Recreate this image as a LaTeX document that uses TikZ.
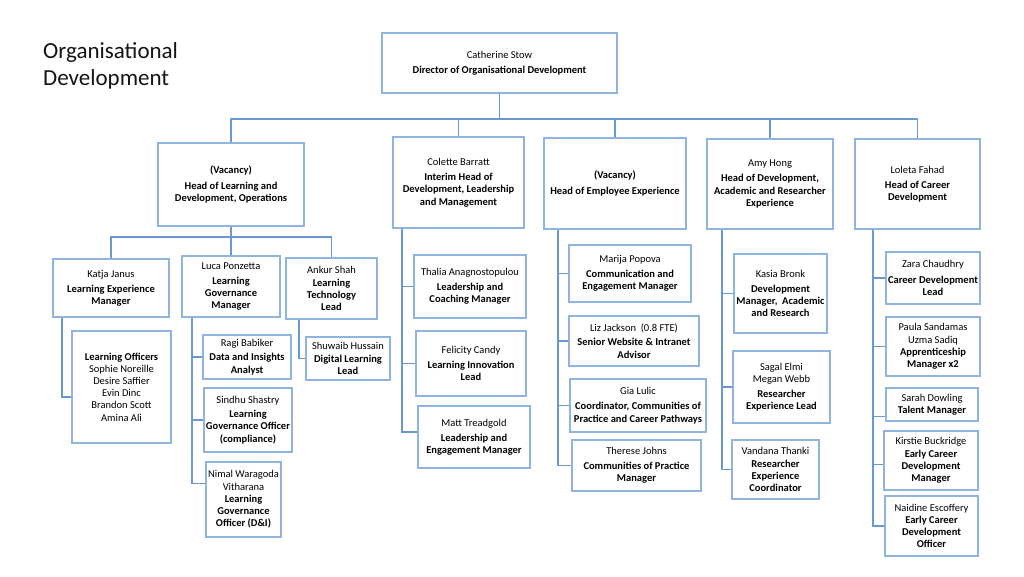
\documentclass[tikz,border=0pt]{standalone}
\usepackage{fontspec}
\setmainfont{Carlito}
\definecolor{boxc}{RGB}{143,180,222}
\definecolor{linec}{RGB}{104,152,206}
\begin{document}
\begin{tikzpicture}[x=1pt,y=-1pt,
  bx/.style={draw=boxc,line width=1.1pt,fill=white,align=center,inner sep=0pt,
     font=\fontsize{10.5}{12.2}\selectfont,text=black},
  cn/.style={draw=linec,line width=1.1pt}]
\useasboundingbox (0,0) rectangle (1024,576);
\newcommand{\bx}[6]{\node[bx,minimum width=#4,minimum height=#5] (#1) at (#2,#3) {#6};}
\node[anchor=west,align=left,font=\fontsize{23}{27}\selectfont,text={rgb,255:red,20;green,20;blue,20},inner sep=0pt] (title) at (43,66) {Organisational\\Development};
% director
\bx{dir}{499.5}{63}{235}{60}{Catherine Stow\\[3pt]\textbf{Director of Organisational Development}}
% heads
\bx{hA}{231}{184.5}{146}{83}{\textbf{(Vacancy)}\\[3pt]\textbf{Head of Learning and}\\\textbf{Development, Operations}}
\bx{hB}{458.5}{182.5}{131}{91}{Colette Barratt\\[3pt]\textbf{Interim Head of}\\\textbf{Development, Leadership}\\\textbf{and Management}}
\bx{hC}{615}{183.5}{142}{91}{\textbf{(Vacancy)}\\[3pt]\textbf{Head of Employee Experience}}
\bx{hD}{770}{184}{126}{90}{Amy Hong\\[3pt]\textbf{Head of Development,}\\\textbf{Academic and Researcher}\\\textbf{Experience}}
\bx{hE}{917.5}{184}{125}{90}{Loleta Fahad\\[3pt]\textbf{Head of Career}\\\textbf{Development}}
% bus
\coordinate (busL) at (231,119);
\draw[cn] (dir.south) -- (dir.south |- busL);
\draw[cn] (hA.north) -- (hA.north |- busL) -- (hE.north |- busL) -- (hE.north);
\draw[cn] (hB.north) -- (hB.north |- busL);
\draw[cn] (hC.north) -- (hC.north |- busL);
\draw[cn] (hD.north) -- (hD.north |- busL);
% under head A
\bx{katja}{111}{288}{116}{58}{Katja Janus\\[3pt]\textbf{Learning Experience}\\\textbf{Manager}}
\bx{luca}{231}{286.5}{98}{61}{Luca Ponzetta\\[3pt]\textbf{Learning}\\\textbf{Governance}\\\textbf{Manager}}
\bx{ankur}{331.5}{288.5}{91}{61}{Ankur Shah\\\textbf{Learning}\\\textbf{Technology}\\\textbf{Lead}}
\coordinate (busA) at (0,237);
\draw[cn] (hA.south) -- (hA.south |- busA);
\draw[cn] (katja.north) -- (katja.north |- busA) -- (ankur.north |- busA) -- (ankur.north);
\draw[cn] (luca.north) -- (luca.north |- busA);
\bx{lo}{121.5}{387}{99}{112}{\textbf{Learning Officers}\\Sophie Noreille\\Desire Saffier\\Evin Dinc\\Brandon Scott\\Amina Ali}
\bx{ragi}{247}{357}{88}{44}{Ragi Babiker\\[2pt]\textbf{Data and Insights}\\\textbf{Analyst}}
\bx{sindhu}{248}{420}{88}{64}{Sindhu Shastry\\[2pt]\textbf{Learning}\\\textbf{Governance Officer}\\\textbf{(compliance)}}
\bx{nimal}{243.5}{499.5}{75}{75}{Nimal Waragoda\\Vitharana\\\textbf{Learning}\\\textbf{Governance}\\\textbf{Officer (D\&I)}}
\bx{shuwaib}{348}{358.5}{84}{43}{Shuwaib Hussain\\\textbf{Digital Learning}\\\textbf{Lead}}
\coordinate (tK) at (62,0);
\coordinate (tL) at (192,0);
\coordinate (tS) at (299,0);
\draw[cn] (katja.south -| tK) |- ([yshift=-10pt]lo.west);
\draw[cn] (luca.south -| tL) |- ([yshift=16pt]nimal.west);
\draw[cn] (ragi.west -| tL) -- (ragi.west);
\draw[cn] (sindhu.west -| tL) -- (sindhu.west);
\draw[cn] (ankur.south -| tS) |- (shuwaib.west);
% under head B
\bx{thalia}{470}{286.5}{112}{63}{Thalia Anagnostopulou\\[3pt]\textbf{Leadership and}\\\textbf{Coaching Manager}}
\bx{felicity}{471}{363.5}{110}{65}{Felicity Candy\\[3pt]\textbf{Learning Innovation}\\\textbf{Lead}}
\bx{matt}{474}{437}{112}{62}{Matt Treadgold\\[3pt]\textbf{Leadership and}\\\textbf{Engagement Manager}}
\coordinate (tB) at (402,0);
\draw[cn] (hB.south -| tB) |- ([yshift=5pt]matt.west);
\draw[cn] (thalia.west -| tB) -- (thalia.west);
\draw[cn] (felicity.west -| tB) -- (felicity.west);
% under head C
\bx{marija}{630}{273.5}{122}{57}{Marija Popova\\[3pt]\textbf{Communication and}\\\textbf{Engagement Manager}}
\bx{liz}{634}{341}{130}{50}{Liz Jackson\ \ (0.8 FTE)\\[2pt]\textbf{Senior Website \& Intranet}\\\textbf{Advisor}}
\bx{gia}{638}{405.5}{136}{53}{Gia Lulic\\[3pt]\textbf{Coordinator, Communities of}\\\textbf{Practice and Career Pathways}}
\bx{therese}{636.5}{465.5}{129}{51}{Therese Johns\\[3pt]\textbf{Communities of Practice}\\\textbf{Manager}}
\coordinate (tC) at (558,0);
\draw[cn] (hC.south -| tC) |- (therese.west);
\draw[cn] (marija.west -| tC) -- (marija.west);
\draw[cn] (liz.west -| tC) -- (liz.west);
\draw[cn] (gia.west -| tC) -- (gia.west);
% under head D
\bx{kasia}{780.5}{293.5}{93}{79}{Kasia Bronk\\[3pt]\textbf{Development}\\\textbf{Manager,\ \ Academic}\\\textbf{and Research}}
\bx{sagal}{781.5}{387}{97}{72}{Sagal Elmi\\Megan Webb\\[3pt]\textbf{Researcher}\\\textbf{Experience Lead}}
\bx{vandana}{775.5}{469.5}{87}{59}{Vandana Thanki\\\textbf{Researcher}\\\textbf{Experience}\\\textbf{Coordinator}}
\coordinate (tD) at (722,0);
\draw[cn] (hD.south -| tD) |- (vandana.west);
\draw[cn] (kasia.west -| tD) -- (kasia.west);
\draw[cn] (sagal.west -| tD) -- (sagal.west);
% under head E
\bx{zara}{933}{278}{94}{52}{Zara Chaudhry\\[3pt]\textbf{Career Development}\\\textbf{Lead}}
\bx{paula}{933}{346.5}{94}{59}{Paula Sandamas\\Uzma Sadiq\\\textbf{Apprenticeship}\\\textbf{Manager x2}}
\bx{sarah}{932}{404.5}{92}{33}{Sarah Dowling\\\textbf{Talent Manager}}
\bx{kirstie}{931}{460.5}{94}{59}{Kirstie Buckridge\\\textbf{Early Career}\\\textbf{Development}\\\textbf{Manager}}
\bx{naidine}{931.5}{526}{93}{60}{Naidine Escoffery\\\textbf{Early Career}\\\textbf{Development}\\\textbf{Officer}}
\coordinate (tE) at (873,0);
\draw[cn] (hE.south -| tE) |- (naidine.west);
\draw[cn] (zara.west -| tE) -- (zara.west);
\draw[cn] (paula.west -| tE) -- (paula.west);
\draw[cn] ([yshift=-12pt]sarah.west -| tE) -- ([yshift=-12pt]sarah.west);
\draw[cn] ([yshift=-4pt]kirstie.west -| tE) -- ([yshift=-4pt]kirstie.west);
\end{tikzpicture}
\end{document}
